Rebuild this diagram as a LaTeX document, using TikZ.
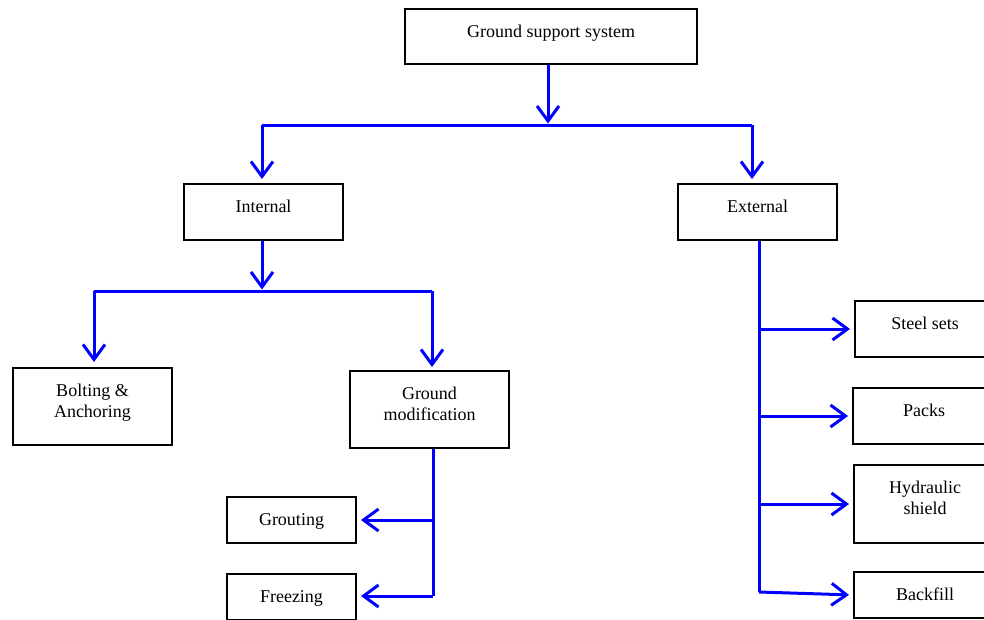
\documentclass[tikz,border=0pt]{standalone}
\usepackage{fontspec}
\setmainfont{Liberation Serif}
\usetikzlibrary{arrows.meta}

\begin{document}
\begin{tikzpicture}[x=1pt,y=-1pt,>={Straight Barb[length=15pt,width=22pt]},
  box/.style={draw,line width=2pt,inner sep=0pt,align=center,
    font=\fontsize{18}{21}\selectfont,text height=28pt},
  twoline/.style={text height=49pt},
  link/.style={blue,line width=3pt}]
  \useasboundingbox (0,0) rectangle (984,619);
  % boxes
  \node[box,minimum width=292pt,text depth=27pt] (gss) at (551,36.5) {Ground support system};
  \node[box,minimum width=159pt,text depth=28pt] (int) at (263.5,212) {Internal};
  \node[box,minimum width=159pt,text depth=28pt] (ext) at (757.5,212) {External};
  \node[box,twoline,minimum width=159pt,text depth=28pt] (bolt) at (92.5,406.5) {Bolting \&\\Anchoring};
  \node[box,twoline,minimum width=159pt,text depth=28pt] (gmod) at (429.5,409.5) {Ground\\modification};
  \node[box,minimum width=129pt,text depth=18pt] (grout) at (291.5,520) {Grouting};
  \node[box,minimum width=129pt,text depth=18pt] (freeze) at (291.5,597) {Freezing};
  \node[box,minimum width=140pt,text depth=28pt] (steel) at (925,329) {Steel sets};
  \node[box,minimum width=142pt,text depth=28pt] (packs) at (924,416) {Packs};
  \node[box,twoline,minimum width=142pt,text depth=29pt] (hyd) at (925,504) {Hydraulic\\shield};
  \node[box,minimum width=142pt,text depth=18pt] (back) at (925,595) {Backfill};
  % junctions
  \coordinate (j0) at (548,125);
  \coordinate (jl) at (262,125);
  \coordinate (jr) at (752,125);
  \coordinate (k0) at (262,291);
  \coordinate (kl) at (94,291);
  \coordinate (kr) at (432,291);
  \coordinate (m0) at (433,596);
  \coordinate (e0) at (759,592);
  % first level
  \draw[link,->,shorten >=1.5pt] (gss.south -| j0) -- (j0);
  \draw[link] (jl) -- (jr);
  \draw[link,->,shorten >=4pt] (jl) -- (jl |- int.north);
  \draw[link,->,shorten >=4pt] (jr) -- (jr |- ext.north);
  % internal
  \draw[link,->,shorten >=1.5pt] (int.south -| k0) -- (k0);
  \draw[link] (kl) -- (kr);
  \draw[link,->,shorten >=5pt] (kl) -- (kl |- bolt.north);
  \draw[link,->,shorten >=3pt] (kr) -- (kr |- gmod.north);
  % ground modification
  \draw[link] (gmod.south -| m0) -- (m0);
  \draw[link,->,shorten >=4pt] (m0 |- grout) -- (grout.east);
  \draw[link,->,shorten >=4pt] (m0) -- (m0 -| freeze.east);
  % external
  \draw[link] (ext.south -| e0) -- (e0);
  \draw[link,->,shorten >=4pt] (e0 |- steel) -- (steel.west);
  \draw[link,->,shorten >=4pt] (e0 |- packs) -- (packs.west);
  \draw[link,->,shorten >=4pt] (e0 |- hyd) -- (hyd.west);
  \draw[link,->,shorten >=4pt] (e0) -- (back.west);
\end{tikzpicture}
\end{document}
